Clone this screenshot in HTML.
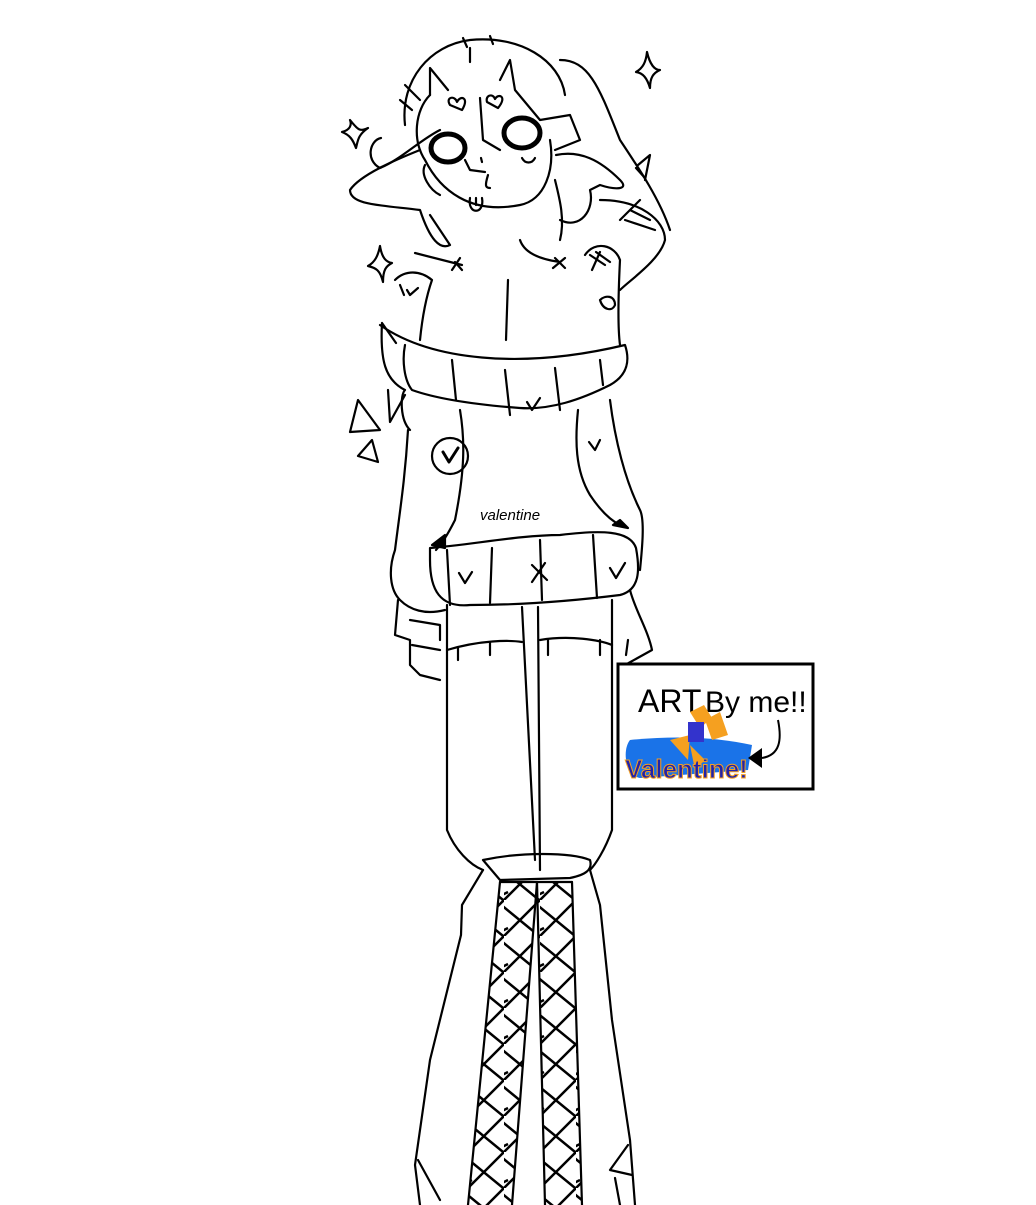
<!DOCTYPE html>
<html><head><meta charset="utf-8"><style>html,body{margin:0;padding:0;background:#fff}svg{display:block}</style></head>
<body>
<svg width="1036" height="1205" viewBox="0 0 1036 1205" xmlns="http://www.w3.org/2000/svg">
<defs>
<pattern id="hatch" width="36" height="36" patternUnits="userSpaceOnUse">
<path d="M-4,4 L40,40 M40,-4 L-4,40 M-4,-32 L40,4 M-4,32 L4,28 M32,40 L40,32" stroke="#000" stroke-width="2.5" fill="none"/>
</pattern>
<clipPath id="lc"><path d="M500,882 L537,882 L512,1205 L468,1205 Z"/></clipPath>
<clipPath id="rc"><path d="M537,882 L572,882 L582,1205 L545,1205 Z"/></clipPath>
</defs>
<g fill="none" stroke="#000" stroke-width="2.2" stroke-linecap="round" stroke-linejoin="round">
<path d="M405,125 C400,80 430,45 470,40 C520,35 560,60 565,95"/>
<path d="M405,85 L420,100 M400,100 L412,110"/>
<path d="M463,38 L467,47 M490,36 L493,44"/>
<path d="M470,48 L470,62"/>
<path d="M430,95 L430,68 L448,90 M500,80 L510,60 L515,90 L540,120 L570,115 L580,140 L555,150"/>
<path d="M430,95 C415,110 412,140 425,160 C440,190 470,215 520,205 C545,200 555,170 550,140"/>
<path d="M480,98 L483,140 L500,150"/>
<path d="M450,105 C445,97 455,95 457,102 C460,95 470,97 462,110 Z"/>
<path d="M487,102 C485,95 493,93 495,99 C498,93 508,96 498,108 Z"/>
<ellipse cx="448" cy="148" rx="17" ry="14" stroke-width="5"/>
<ellipse cx="522" cy="133" rx="18" ry="15" stroke-width="5"/>
<path d="M465,160 L470,170 L485,172 M481,158 L482,162"/>
<path d="M488,175 C485,185 485,188 490,188"/>
<path d="M522,158 C525,164 532,164 535,158"/>
<path d="M470,198 C467,215 485,215 482,198 M476,198 L476,205"/>
<path d="M381,138 C370,140 365,160 380,168 C400,160 420,140 440,130"/>
<path d="M420,150 C395,160 360,175 350,190 C350,205 380,205 420,210 C430,240 440,250 450,245 L440,230 L430,215"/>
<path d="M425,165 C420,175 430,190 440,195"/>
<path d="M556,155 C580,150 600,160 620,180 C630,190 615,190 600,185 L590,190 C595,210 580,230 560,220"/>
<path d="M560,60 C590,60 600,90 620,140 C640,170 660,200 670,230"/>
<path d="M555,180 C560,200 565,220 560,240"/>
<path d="M600,200 C640,200 665,220 665,240 C660,260 630,280 620,290"/>
<path d="M620,220 L640,200 M630,210 L650,220 M625,220 L655,230"/>
<path d="M638,165 L650,155 L645,180 M636,168 L645,178"/>
<path d="M350,120 C358,130 360,132 368,128 C358,135 358,140 356,148 C353,140 350,135 342,132 C350,130 352,125 350,120 Z"/>
<path d="M647,52 C650,65 655,70 660,70 C653,73 650,78 650,88 C647,78 643,73 636,72 C643,68 646,62 647,52 Z"/>
<path d="M380,246 C382,258 386,262 392,263 C386,266 383,270 383,282 C380,270 376,268 368,266 C375,262 378,256 380,246 Z"/>
<path d="M358,400 L350,432 L380,430 Z M372,440 L358,456 L378,462 Z M388,390 L390,422 L405,395"/>
<path d="M415,253 L462,265 M455,262 L462,270 M452,270 L460,258"/>
<path d="M520,240 C525,255 545,260 560,262 M555,258 L565,268 M565,258 L553,268"/>
<path d="M395,280 C405,270 420,270 432,280 C425,300 422,320 420,340"/>
<path d="M400,285 L404,295 M407,290 L410,295 L418,288"/>
<path d="M585,255 C595,240 615,245 620,260 C618,300 618,330 620,345"/>
<path d="M590,255 L605,265 M600,252 L592,270 M596,252 L610,262"/>
<path d="M600,300 C605,295 615,295 615,305 C612,312 603,310 600,300"/>
<path d="M508,280 L506,340"/>
<path d="M382,323 L396,343 M382,323 C380,360 385,380 405,390 C400,395 400,420 410,430"/>
<path d="M380,325 C430,360 520,370 625,345 C630,360 628,375 610,385 C580,400 550,410 520,408 C480,405 440,400 412,390 C404,380 402,360 405,345"/>
<path d="M452,360 L456,400 M505,370 L510,415 M555,368 L560,410 M600,360 L603,385"/>
<path d="M527,402 L532,410 L540,398"/>
<circle cx="450" cy="456" r="18"/>
<path d="M443,452 L449,462 L458,448" stroke-width="3"/>
<path d="M589,442 L595,450 L600,440"/>
<path d="M460,410 C465,440 465,470 455,520 C445,540 440,545 436,550"/>
<path d="M578,410 C575,440 575,470 590,495 C600,510 610,520 620,525"/>
<path d="M408,430 C405,480 400,510 395,550 C388,570 390,590 400,600 C410,610 425,615 445,610"/>
<path d="M610,400 C615,440 625,480 640,510 C645,520 642,550 640,570"/>
<path d="M432,545 L445,535 L445,548 Z M613,525 L628,528 L620,520 Z" fill="#000"/>
<path d="M430,548 C470,545 520,535 560,535 C600,530 630,530 636,548 C640,570 640,590 620,595 C580,600 530,605 470,605 C440,608 430,590 430,560 Z"/>
<path d="M447,550 L450,605 M492,548 L490,603 M540,540 L542,600 M593,535 L597,598"/>
<path d="M459,573 L465,583 L472,572 M532,565 L547,580 M545,563 L532,582 M610,568 L616,578 L625,563"/>
<text x="480" y="520" font-family="Liberation Sans, sans-serif" font-size="15" fill="#000" stroke="none" font-style="italic">valentine</text>
<path d="M398,600 L395,635 L410,640 L410,665 L420,675 L440,680"/>
<path d="M410,620 L440,625 L440,640 M412,645 L440,650"/>
<path d="M630,590 C635,610 648,630 652,650 L625,665 M628,640 L626,655"/>
<path d="M447,605 L447,830 C455,850 470,865 483,870"/>
<path d="M612,600 L612,830 C605,850 595,865 590,870"/>
<path d="M522,607 L535,860 M538,607 L540,870"/>
<path d="M447,650 C480,640 510,640 522,642 M540,640 C570,635 600,640 612,645"/>
<path d="M458,648 L458,660 M490,643 L490,655 M548,640 L548,655 M600,640 L600,655"/>
<path d="M483,860 C520,852 570,852 590,860 C593,870 585,875 570,878 L500,880 Z"/>
<path d="M500,882 L540,882 M537,882 L572,882"/>
<path d="M483,870 L462,905 L461,935 L430,1060 L415,1165 L420,1205"/>
<path d="M590,870 L600,905 L612,1020 L630,1140 L635,1205"/>
<path d="M418,1160 L440,1200 M628,1145 L610,1170 L632,1175 M615,1178 L620,1205"/>
<rect x="460" y="882" width="130" height="323" fill="url(#hatch)" clip-path="url(#lc)" stroke="none"/>
<rect x="460" y="882" width="130" height="323" fill="url(#hatch)" clip-path="url(#rc)" stroke="none"/>
<path d="M500,882 L468,1205 M537,882 L512,1205 M537,882 L545,1205 M572,882 L582,1205"/>
</g>
<rect x="618" y="664" width="195" height="125" fill="#fff" stroke="#000" stroke-width="3"/>
<text x="638" y="712" font-family="Liberation Sans, sans-serif" font-size="32" fill="#000">ART</text>
<text x="705" y="712" font-family="Liberation Sans, sans-serif" font-size="30" fill="#000">By me!!</text>
<path d="M630,740 C680,735 720,738 752,745 L748,770 L640,778 C625,775 622,750 630,740 Z" fill="#1a73e8"/>
<path d="M690,712 L704,705 L712,718 L700,728 Z M670,740 L690,735 L688,760 Z M705,720 L720,712 L728,735 L712,740 Z M690,745 L705,760 L695,770 Z" fill="#f5a020"/>
<rect x="688" y="722" width="16" height="20" fill="#3333cc"/>
<text x="625" y="778" font-family="Liberation Sans, sans-serif" font-size="26" font-weight="bold" fill="#2222aa" stroke="#f5a020" stroke-width="1">Valentine!</text>
<path d="M778,720 C782,740 780,755 762,758" fill="none" stroke="#000" stroke-width="2"/>
<path d="M748,758 L762,748 L762,768 Z" fill="#000"/>
</svg>
</body></html>
